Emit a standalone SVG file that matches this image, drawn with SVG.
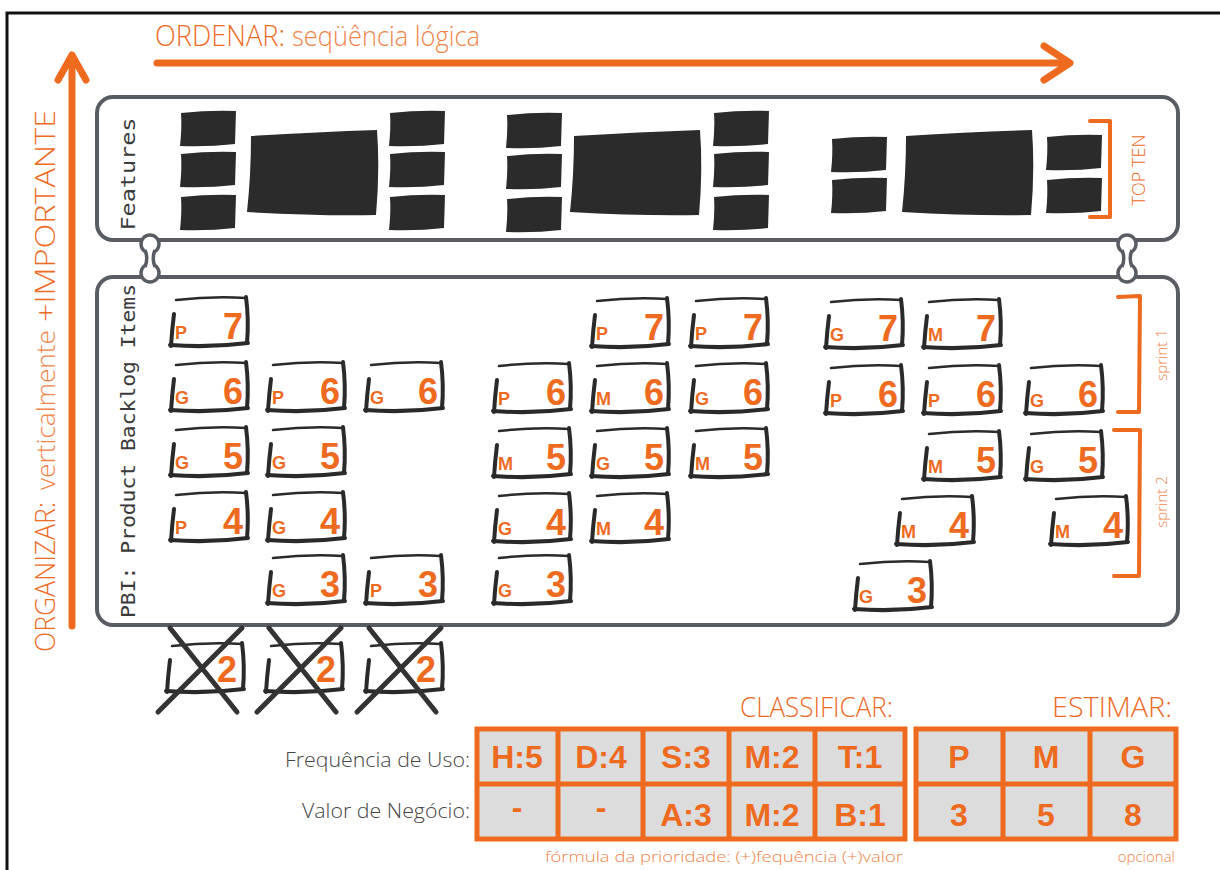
<svg xmlns="http://www.w3.org/2000/svg" xmlns:xlink="http://www.w3.org/1999/xlink" width="1220" height="870" viewBox="0 0 1220 870">
<style>
.panel{fill:#fff;stroke:#595d63;stroke-width:4}
.blk{fill:#2b2b2b}
.c1{fill:none;stroke:#2a2a2a;stroke-width:2.5;stroke-linecap:round}
.c2{fill:none;stroke:#2a2a2a;stroke-width:4;stroke-linecap:round}
.lt{font-family:"Liberation Sans",Arial,sans-serif;font-weight:bold;font-size:18px;fill:#ee6a1f}
.nm{font-family:"Liberation Sans",Arial,sans-serif;font-weight:bold;font-size:36px;fill:#ee6a1f;text-anchor:end}
.hand{font-family:"Open Sans","Liberation Sans",sans-serif;font-weight:300}
.or{fill:#ee6a1f}
.lor{fill:#f0844a}
.mono{font-family:"DejaVu Sans Mono",monospace;font-size:20px;fill:#3a3a3a}
.arrow{fill:none;stroke:#ee6a1f;stroke-width:7;stroke-linecap:round;stroke-linejoin:round}
.brk{fill:none;stroke:#ee6a1f;stroke-width:4;stroke-linecap:round;stroke-linejoin:round}
.cell{fill:#dcdcdd;stroke:#ee6a1f;stroke-width:5}
.tb{font-family:"Liberation Sans",Arial,sans-serif;font-weight:bold;font-size:32px;fill:#ee6a1f;text-anchor:middle}
.lbl{font-family:"Open Sans","Liberation Sans",sans-serif;font-weight:300;font-size:20px;fill:#444;text-anchor:end}
.x{fill:none;stroke:#333;stroke-width:5;stroke-linecap:round}
.link{fill:#fff;stroke:#595d63;stroke-width:3.5}
</style>
<defs>
<g id="card">
<path class="c1" d="M9,4 Q45,0 79,2"/>
<path class="c2" d="M79,1 Q82,24 80,47"/>
<path class="c2" d="M81,47 Q42,52 3,49"/>
<path class="c2" d="M4,50 Q5,34 7,18"/>
</g>
<path id="sb" d="M2,3 Q30,0 57,1 L56,34 Q30,37 1,36 Q3,18 2,3 Z"/>
<path id="bb" d="M4,6 Q70,2 130,0 Q133,40 129,85 Q70,86 0,82 Q4,45 4,6 Z"/>
</defs>
<rect width="1220" height="870" fill="#fff"/>
<path d="M7,870 L7,13 L1220,13" fill="none" stroke="#111" stroke-width="3"/>

<g id="ordenar">
<text class="hand or" x="155" y="46" font-size="30" textLength="130" lengthAdjust="spacingAndGlyphs" font-weight="400">ORDENAR:</text>
<text class="hand lor" x="292" y="46" font-size="28" textLength="188" lengthAdjust="spacingAndGlyphs">seqüência lógica</text>
<path class="arrow" d="M157,63 L1066,63"/>
<path class="arrow" d="M1044,46 L1070,63 L1044,80"/>
</g>

<g id="organizar">
<path class="arrow" d="M72,626 L72,60"/>
<path class="arrow" d="M58,80 L72,55 L86,80"/>
<g transform="translate(55,652) rotate(-90)">
<text class="hand or" x="0" y="0" font-size="28" font-weight="400" textLength="150" lengthAdjust="spacingAndGlyphs">ORGANIZAR:</text>
<text class="hand lor" x="162" y="0" font-size="26" textLength="160" lengthAdjust="spacingAndGlyphs">verticalmente</text>
<text class="hand or" x="330" y="0" font-size="28" textLength="212" lengthAdjust="spacingAndGlyphs">+IMPORTANTE</text>
</g>
</g>

<g id="features">
<rect class="panel" x="97" y="97" width="1081" height="143" rx="16"/>
<text class="mono" transform="translate(135,174) rotate(-90)" text-anchor="middle" textLength="113" lengthAdjust="spacingAndGlyphs">Features</text>
<g id="feat-group-1">
<use href="#sb" class="blk" x="179" y="110"/><use href="#sb" class="blk" x="179" y="151"/><use href="#sb" class="blk" x="179" y="194"/>
<use href="#bb" class="blk" x="247" y="130"/>
<use href="#sb" class="blk" x="388" y="110"/><use href="#sb" class="blk" x="388" y="151"/><use href="#sb" class="blk" x="388" y="194"/>
</g>
<g id="feat-group-2">
<use href="#sb" class="blk" x="505" y="112"/><use href="#sb" class="blk" x="505" y="153"/><use href="#sb" class="blk" x="505" y="196"/>
<use href="#bb" class="blk" x="570" y="130"/>
<use href="#sb" class="blk" x="712" y="110"/><use href="#sb" class="blk" x="712" y="151"/><use href="#sb" class="blk" x="712" y="194"/>
</g>
<g id="feat-group-3">
<use href="#sb" class="blk" x="830" y="136"/><use href="#sb" class="blk" x="830" y="177"/>
<use href="#bb" class="blk" x="902" y="130"/>
<use href="#sb" class="blk" x="1045" y="134"/><use href="#sb" class="blk" x="1045" y="177"/>
</g>
<g id="top-ten">
<path class="brk" d="M1090,121 L1110,121 L1110,217 L1090,217"/>
<text class="hand or" transform="translate(1145,170) rotate(-90)" text-anchor="middle" font-size="18" font-weight="400">TOP TEN</text>
</g>
</g>

<g id="pbi">
<rect class="panel" x="97" y="277" width="1081" height="348" rx="16"/>
<text class="mono" transform="translate(135,451) rotate(-90)" text-anchor="middle" textLength="334" lengthAdjust="spacingAndGlyphs">PBI: Product Backlog Items</text>
<g id="sprint-1">
<path class="brk" d="M1118,297 L1140,296 L1139,412 L1118,412"/>
<text class="hand lor" transform="translate(1167,355) rotate(-90)" text-anchor="middle" font-size="15">sprint 1</text>
</g>
<g id="sprint-2">
<path class="brk" d="M1114,430 L1140,430 L1139,576 L1114,576"/>
<text class="hand lor" transform="translate(1167,502) rotate(-90)" text-anchor="middle" font-size="15">sprint 2</text>
</g>
</g>

<g id="connectors">
<g>
<circle class="link" cx="150" cy="244" r="9"/><circle class="link" cx="150" cy="273" r="9"/>
<rect x="145" y="248" width="10" height="21" fill="#fff"/>
<path d="M145,250 Q148.5,258.5 145,267 M155,250 Q151.5,258.5 155,267" fill="none" stroke="#595d63" stroke-width="3.5"/>
</g>
<g>
<circle class="link" cx="1127" cy="244" r="9"/><circle class="link" cx="1127" cy="273" r="9"/>
<rect x="1122" y="248" width="10" height="21" fill="#fff"/>
<path d="M1122,250 Q1125.5,258.5 1122,267 M1132,250 Q1128.5,258.5 1132,267" fill="none" stroke="#595d63" stroke-width="3.5"/>
</g>
</g>

<g id="pbi-cards">
<g id="c1" transform="translate(167,296)"><use href="#card"/><text class="lt" x="8" y="43">P</text><text class="nm" x="76" y="43">7</text></g>
<g id="c2" transform="translate(167,361)"><use href="#card"/><text class="lt" x="8" y="43">G</text><text class="nm" x="76" y="43">6</text></g>
<g id="c3" transform="translate(264,361)"><use href="#card"/><text class="lt" x="8" y="43">P</text><text class="nm" x="76" y="43">6</text></g>
<g id="c4" transform="translate(362,361)"><use href="#card"/><text class="lt" x="8" y="43">G</text><text class="nm" x="76" y="43">6</text></g>
<g id="c5" transform="translate(167,426)"><use href="#card"/><text class="lt" x="8" y="43">G</text><text class="nm" x="76" y="43">5</text></g>
<g id="c6" transform="translate(264,426)"><use href="#card"/><text class="lt" x="8" y="43">G</text><text class="nm" x="76" y="43">5</text></g>
<g id="c7" transform="translate(167,491)"><use href="#card"/><text class="lt" x="8" y="43">P</text><text class="nm" x="76" y="43">4</text></g>
<g id="c8" transform="translate(264,491)"><use href="#card"/><text class="lt" x="8" y="43">G</text><text class="nm" x="76" y="43">4</text></g>
<g id="c9" transform="translate(264,554)"><use href="#card"/><text class="lt" x="8" y="43">G</text><text class="nm" x="76" y="43">3</text></g>
<g id="c10" transform="translate(362,554)"><use href="#card"/><text class="lt" x="8" y="43">P</text><text class="nm" x="76" y="43">3</text></g>

<g id="c11" transform="translate(588,297)"><use href="#card"/><text class="lt" x="8" y="43">P</text><text class="nm" x="76" y="43">7</text></g>
<g id="c12" transform="translate(687,297)"><use href="#card"/><text class="lt" x="8" y="43">P</text><text class="nm" x="76" y="43">7</text></g>
<g id="c13" transform="translate(490,362)"><use href="#card"/><text class="lt" x="8" y="43">P</text><text class="nm" x="76" y="43">6</text></g>
<g id="c14" transform="translate(588,362)"><use href="#card"/><text class="lt" x="8" y="43">M</text><text class="nm" x="76" y="43">6</text></g>
<g id="c15" transform="translate(687,362)"><use href="#card"/><text class="lt" x="8" y="43">G</text><text class="nm" x="76" y="43">6</text></g>
<g id="c16" transform="translate(490,427)"><use href="#card"/><text class="lt" x="8" y="43">M</text><text class="nm" x="76" y="43">5</text></g>
<g id="c17" transform="translate(588,427)"><use href="#card"/><text class="lt" x="8" y="43">G</text><text class="nm" x="76" y="43">5</text></g>
<g id="c18" transform="translate(687,427)"><use href="#card"/><text class="lt" x="8" y="43">M</text><text class="nm" x="76" y="43">5</text></g>
<g id="c19" transform="translate(490,492)"><use href="#card"/><text class="lt" x="8" y="43">G</text><text class="nm" x="76" y="43">4</text></g>
<g id="c20" transform="translate(588,492)"><use href="#card"/><text class="lt" x="8" y="43">M</text><text class="nm" x="76" y="43">4</text></g>
<g id="c21" transform="translate(490,554)"><use href="#card"/><text class="lt" x="8" y="43">G</text><text class="nm" x="76" y="43">3</text></g>

<g id="c22" transform="translate(822,298)"><use href="#card"/><text class="lt" x="8" y="43">G</text><text class="nm" x="76" y="43">7</text></g>
<g id="c23" transform="translate(920,298)"><use href="#card"/><text class="lt" x="8" y="43">M</text><text class="nm" x="76" y="43">7</text></g>
<g id="c24" transform="translate(822,364)"><use href="#card"/><text class="lt" x="8" y="43">P</text><text class="nm" x="76" y="43">6</text></g>
<g id="c25" transform="translate(920,364)"><use href="#card"/><text class="lt" x="8" y="43">P</text><text class="nm" x="76" y="43">6</text></g>
<g id="c26" transform="translate(1022,364)"><use href="#card"/><text class="lt" x="8" y="43">G</text><text class="nm" x="76" y="43">6</text></g>
<g id="c27" transform="translate(920,430)"><use href="#card"/><text class="lt" x="8" y="43">M</text><text class="nm" x="76" y="43">5</text></g>
<g id="c28" transform="translate(1022,430)"><use href="#card"/><text class="lt" x="8" y="43">G</text><text class="nm" x="76" y="43">5</text></g>
<g id="c29" transform="translate(893,495)"><use href="#card"/><text class="lt" x="8" y="43">M</text><text class="nm" x="76" y="43">4</text></g>
<g id="c30" transform="translate(1047,495)"><use href="#card"/><text class="lt" x="8" y="43">M</text><text class="nm" x="76" y="43">4</text></g>
<g id="c31" transform="translate(851,560)"><use href="#card"/><text class="lt" x="8" y="43">G</text><text class="nm" x="76" y="43">3</text></g>
</g>

<g id="removed">
<g id="r1" transform="translate(163,642)"><use href="#card"/><text class="nm" x="74" y="40" font-size="32">2</text><path class="x" d="M7,-14 L74,70 M79,-14 L-5,70"/></g>
<g id="r2" transform="translate(262,642)"><use href="#card"/><text class="nm" x="74" y="40" font-size="32">2</text><path class="x" d="M7,-14 L74,70 M79,-14 L-5,70"/></g>
<g id="r3" transform="translate(362,642)"><use href="#card"/><text class="nm" x="74" y="40" font-size="32">2</text><path class="x" d="M7,-14 L74,70 M79,-14 L-5,70"/></g>
</g>

<g id="classificar">
<text class="hand or" x="893" y="717" font-size="28" text-anchor="end" textLength="153" lengthAdjust="spacingAndGlyphs">CLASSIFICAR:</text>
<text class="lbl" x="470" y="767" textLength="185" lengthAdjust="spacingAndGlyphs">Frequência de Uso:</text>
<text class="lbl" x="470" y="818" textLength="168" lengthAdjust="spacingAndGlyphs">Valor de Negócio:</text>
<rect class="cell" x="477" y="729" width="428" height="110"/>
<path d="M558,729 V839 M643,729 V839 M729,729 V839 M815,729 V839 M477,784 H905" stroke="#ee6a1f" stroke-width="5" fill="none"/>
<text class="tb" x="517" y="768">H:5</text>
<text class="tb" x="601" y="768">D:4</text>
<text class="tb" x="686" y="768">S:3</text>
<text class="tb" x="772" y="768">M:2</text>
<text class="tb" x="860" y="768">T:1</text>
<text class="tb" x="517" y="818">-</text>
<text class="tb" x="601" y="818">-</text>
<text class="tb" x="686" y="826">A:3</text>
<text class="tb" x="772" y="826">M:2</text>
<text class="tb" x="860" y="826">B:1</text>
<text class="hand lor" x="903" y="862" font-size="15" text-anchor="end" textLength="358" lengthAdjust="spacingAndGlyphs">fórmula da prioridade: (+)fequência (+)valor</text>
</g>

<g id="estimar">
<text class="hand or" x="1172" y="717" font-size="28" text-anchor="end" textLength="120" lengthAdjust="spacingAndGlyphs">ESTIMAR:</text>
<rect class="cell" x="916" y="729" width="260" height="110"/>
<path d="M1003,729 V839 M1090,729 V839 M916,784 H1176" stroke="#ee6a1f" stroke-width="5" fill="none"/>
<text class="tb" x="959" y="768">P</text>
<text class="tb" x="1046" y="768">M</text>
<text class="tb" x="1133" y="768">G</text>
<text class="tb" x="959" y="826">3</text>
<text class="tb" x="1046" y="826">5</text>
<text class="tb" x="1133" y="826">8</text>
<text class="hand lor" x="1175" y="862" font-size="15" text-anchor="end">opcional</text>
</g>
</svg>
